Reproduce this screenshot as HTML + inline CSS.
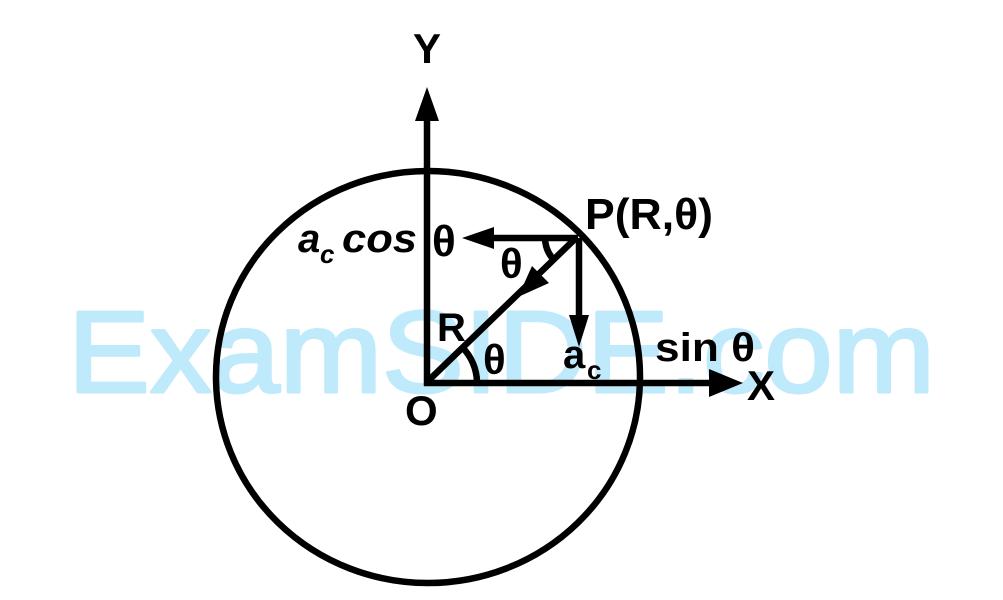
<!DOCTYPE html>
<html><head><meta charset="utf-8"><style>
html,body{margin:0;padding:0;background:#fff;}
svg{display:block;}
text{font-family:"Liberation Sans",sans-serif;}
</style></head><body>
<svg width="1003" height="600" viewBox="0 0 1003 600" xmlns="http://www.w3.org/2000/svg">
<rect width="1003" height="600" fill="#fff"/>
<text x="68" y="392" font-size="116" fill="#bfeafb" stroke="#bfeafb" stroke-width="3" stroke-linejoin="round" textLength="867" lengthAdjust="spacingAndGlyphs">ExamSIDE.com</text>
<g stroke="#000" stroke-width="6.5" fill="none">
<ellipse cx="428" cy="377" rx="212" ry="206"/>
<line x1="427" y1="386" x2="427" y2="110"/>
<line x1="424" y1="383" x2="715" y2="383"/>
<line x1="426" y1="383" x2="577" y2="237"/>
<line x1="578" y1="238" x2="485" y2="238"/>
<line x1="579" y1="238" x2="579" y2="320"/>
<path d="M477 383 A51 51 0 0 0 462 347"/>
<path d="M545 238 A33 33 0 0 0 555 261"/>
</g>
<g fill="#000">
<polygon points="427,87 415,121 439,121"/>
<polygon points="743,383 709,369 709,397"/>
<polygon points="462,238 494,227 494,249"/>
<polygon points="579,347 569,315 589,315"/>
<polygon points="518,297 532,266 549,283"/>
</g>
<g font-weight="bold" fill="#000">
<text x="413" y="63" font-size="42">Y</text>
<text x="747" y="400" font-size="42">X</text>
<text x="405" y="425" font-size="42">O</text>
<text x="585" y="229" font-size="44" textLength="128" lengthAdjust="spacingAndGlyphs">P(R,θ)</text>
<text x="298" y="252" font-size="40" font-style="italic">a</text>
<text x="320" y="263" font-size="26" font-style="italic">c</text>
<text x="342" y="252" font-size="40" font-style="italic" textLength="75" lengthAdjust="spacingAndGlyphs">cos</text>
<text x="432" y="256" font-size="44">θ</text>
<text x="500" y="278" font-size="42">θ</text>
<text x="437" y="341" font-size="40">R</text>
<text x="483" y="374" font-size="42">θ</text>
<text x="563" y="368" font-size="40">a</text>
<text x="587" y="379" font-size="26">c</text>
<text x="655" y="361" font-size="40" textLength="100" lengthAdjust="spacingAndGlyphs">sin θ</text>
</g>
</svg>
</body></html>
